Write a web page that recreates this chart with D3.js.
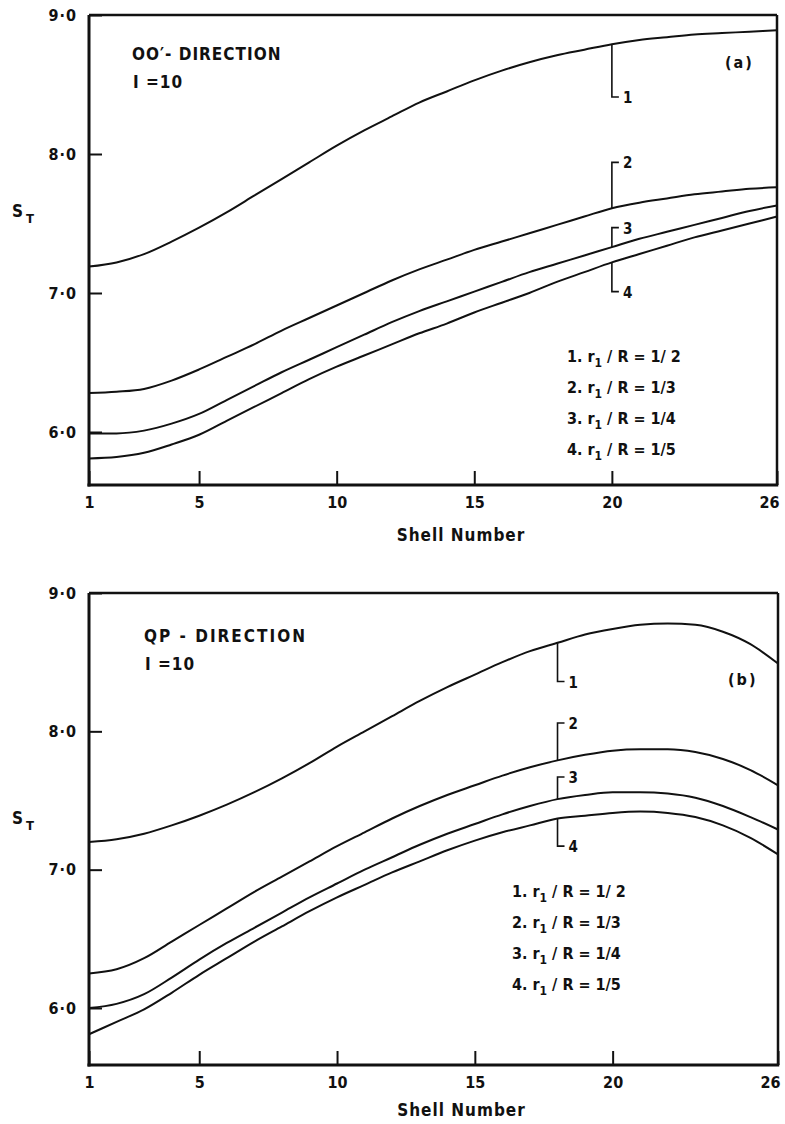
<!DOCTYPE html>
<html><head><meta charset="utf-8">
<script src="https://cdn.jsdelivr.net/npm/d3@7"></script>
<style>
body{margin:0;background:#fff}
text{font-family:"DejaVu Sans Condensed","DejaVu Sans",sans-serif;fill:#111;font-weight:bold}
</style>
</head><body>
<svg id="c" width="785" height="1124"></svg>
<script>
// ---------- data ----------
const shells = [1,2,3,4,5,6,7,8,9,10,11,12,13,14,15,16,17,18,19,20,21,22,23,24,25,26];
const xTickValues = [1,5,10,15,20,26];
const yTickValues = [6,7,8,9];

// (a) OO'-direction
const aCurve1 = [7.19,7.22,7.28,7.37,7.47,7.58,7.70,7.82,7.94,8.06,8.17,8.27,8.37,8.45,8.53,8.60,8.66,8.71,8.75,8.79,8.82,8.84,8.86,8.87,8.88,8.89];
const aCurve2 = [6.28,6.29,6.31,6.37,6.45,6.54,6.63,6.73,6.82,6.91,7.00,7.09,7.17,7.24,7.31,7.37,7.43,7.49,7.55,7.61,7.65,7.68,7.71,7.73,7.75,7.76];
const aCurve3 = [5.99,5.99,6.01,6.06,6.13,6.23,6.33,6.43,6.52,6.61,6.70,6.79,6.87,6.94,7.01,7.08,7.15,7.21,7.27,7.33,7.39,7.44,7.49,7.54,7.59,7.63];
const aCurve4 = [5.81,5.82,5.85,5.91,5.98,6.08,6.18,6.28,6.38,6.47,6.55,6.63,6.71,6.78,6.86,6.93,7.00,7.08,7.15,7.22,7.28,7.34,7.40,7.45,7.50,7.55];

// (b) QP-direction
const bCurve1 = [7.20,7.22,7.26,7.32,7.39,7.47,7.56,7.66,7.77,7.89,8.00,8.11,8.22,8.32,8.41,8.50,8.58,8.64,8.70,8.74,8.77,8.78,8.77,8.72,8.63,8.49];
const bCurve2 = [6.25,6.28,6.36,6.48,6.60,6.72,6.84,6.95,7.06,7.17,7.27,7.37,7.46,7.54,7.61,7.68,7.74,7.79,7.83,7.86,7.87,7.87,7.85,7.80,7.72,7.61];
const bCurve3 = [6.00,6.03,6.10,6.22,6.35,6.47,6.58,6.69,6.80,6.90,7.00,7.09,7.18,7.26,7.33,7.40,7.46,7.51,7.54,7.56,7.56,7.55,7.52,7.46,7.38,7.29];
const bCurve4 = [5.81,5.90,5.99,6.11,6.24,6.36,6.48,6.59,6.70,6.80,6.89,6.98,7.06,7.14,7.21,7.27,7.32,7.37,7.39,7.41,7.42,7.41,7.38,7.32,7.23,7.11];

// curve label brackets: label, shell position, value at the bracket's free end
const curveLabels = ["1","2","3","4"];
const aBracketShell = 20;
const aBracketEnds = [8.41,7.94,7.47,7.01];
const bBracketShell = 18;
const bBracketEnds = [8.36,8.06,7.67,7.17];

// legend
const legendNums = ["1.","2.","3.","4."];
const legendRatios = ["1/ 2","1/3","1/4","1/5"];

const svg = d3.select("#c");

function fmt(d){ return d.toFixed(1).replace(".", "\u00B7"); }

function drawPanel(p){
  const g = svg.append("g");
  const x = d3.scaleLinear().domain([1,26]).range([p.left,p.right]);
  const y = d3.scaleLinear().domain([6,9]).range([p.y6,p.top]);

  // curves
  const line = d3.line().x((d,i)=>x(shells[i])).y(d=>y(d)).curve(d3.curveMonotoneX);
  p.series.forEach(s=>{
    g.append("path").attr("d", line(s)).attr("fill","none").attr("stroke","#111").attr("stroke-width",2);
  });

  // x axis
  const xa = d3.axisBottom(x).tickValues(xTickValues).tickSizeInner(-14).tickSizeOuter(0).tickPadding(12).tickFormat(d3.format("d"));
  const gx = g.append("g").attr("transform",`translate(0,${p.bottom})`).call(xa);
  gx.select(".domain").remove();
  gx.selectAll(".tick line").attr("stroke","#111").attr("stroke-width",2);
  gx.selectAll(".tick text").attr("font-size",16).attr("fill","#111")
    .attr("dx", d => d === 26 ? -8 : 0);

  // y axis
  const ya = d3.axisLeft(y).tickValues(yTickValues).tickSizeInner(-13).tickSizeOuter(0).tickPadding(12).tickFormat(fmt);
  const gy = g.append("g").attr("transform",`translate(${p.left},0)`).call(ya);
  gy.select(".domain").remove();
  gy.selectAll(".tick line").attr("stroke","#111").attr("stroke-width",2);
  gy.selectAll(".tick text").attr("font-size",16).attr("fill","#111").attr("letter-spacing",1);

  // frame
  g.append("line").attr("x1",p.left).attr("x2",p.right).attr("y1",p.top).attr("y2",p.top).attr("stroke","#111").attr("stroke-width",2.5);
  g.append("line").attr("x1",p.right).attr("x2",p.right).attr("y1",p.top).attr("y2",p.bottom).attr("stroke","#111").attr("stroke-width",2.5);
  g.append("line").attr("x1",p.left).attr("x2",p.left).attr("y1",p.top).attr("y2",p.bottom+1.5).attr("stroke","#111").attr("stroke-width",3);
  g.append("line").attr("x1",p.left-1.5).attr("x2",p.right+1.25).attr("y1",p.bottom).attr("y2",p.bottom).attr("stroke","#111").attr("stroke-width",3);

  // brackets
  const si = shells.indexOf(p.bracketShell);
  curveLabels.forEach((lab,i)=>{
    const bx = x(p.bracketShell);
    const yc = y(p.series[i][si]);
    const ye = y(p.bracketEnds[i]);
    g.append("path").attr("d",`M${bx},${yc}V${ye}h7`).attr("fill","none").attr("stroke","#111").attr("stroke-width",1.6);
    g.append("text").attr("x",bx+11).attr("y",ye+6).attr("font-size",15).text(lab);
  });

  // title text
  g.append("text").attr("x",p.titleX).attr("y",p.titleY).attr("font-size",17).attr("letter-spacing",p.titleSpacing).text(p.title);
  g.append("text").attr("x",p.titleX+1).attr("y",p.titleY+28).attr("font-size",17).attr("letter-spacing",1).text("I =10");
  g.append("text").attr("x",p.tagX).attr("y",p.tagY).attr("font-size",16).attr("letter-spacing",2).text(p.tag);

  // legend
  legendNums.forEach((n,i)=>{
    const t = g.append("text").attr("x",p.legX).attr("y",p.legY+i*31).attr("font-size",16);
    t.append("tspan").text(n+" r");
    t.append("tspan").attr("font-size",12).attr("dy",5).text("1");
    t.append("tspan").attr("dy",-5).text(" / R = "+legendRatios[i]);
  });

  // axis titles
  g.append("text").attr("x",(p.left+p.right)/2+28).attr("y",p.bottom+p.xtOff).attr("text-anchor","middle").attr("font-size",17).attr("letter-spacing",1).text("Shell Number");
  const st = g.append("text").attr("x",12).attr("y",p.stY).attr("font-size",17);
  st.append("tspan").text("S");
  st.append("tspan").attr("font-size",13).attr("dx",3).attr("dy",6).text("T");
}

drawPanel({left:89,right:777,top:15,y6:432,bottom:485,series:[aCurve1,aCurve2,aCurve3,aCurve4],
  bracketShell:aBracketShell,bracketEnds:aBracketEnds,title:"OO\u2032- DIRECTION",titleX:132,titleY:60,titleSpacing:1,
  tag:"(a)",tagX:725,tagY:68,legX:567,legY:362,stY:217,xtOff:56});
drawPanel({left:89,right:778,top:593,y6:1008,bottom:1065,series:[bCurve1,bCurve2,bCurve3,bCurve4],
  bracketShell:bBracketShell,bracketEnds:bBracketEnds,title:"QP - DIRECTION",titleX:144,titleY:642,titleSpacing:2,
  tag:"(b)",tagX:728,tagY:685,legX:512,legY:897,stY:824,xtOff:51});
</script>
</body></html>
